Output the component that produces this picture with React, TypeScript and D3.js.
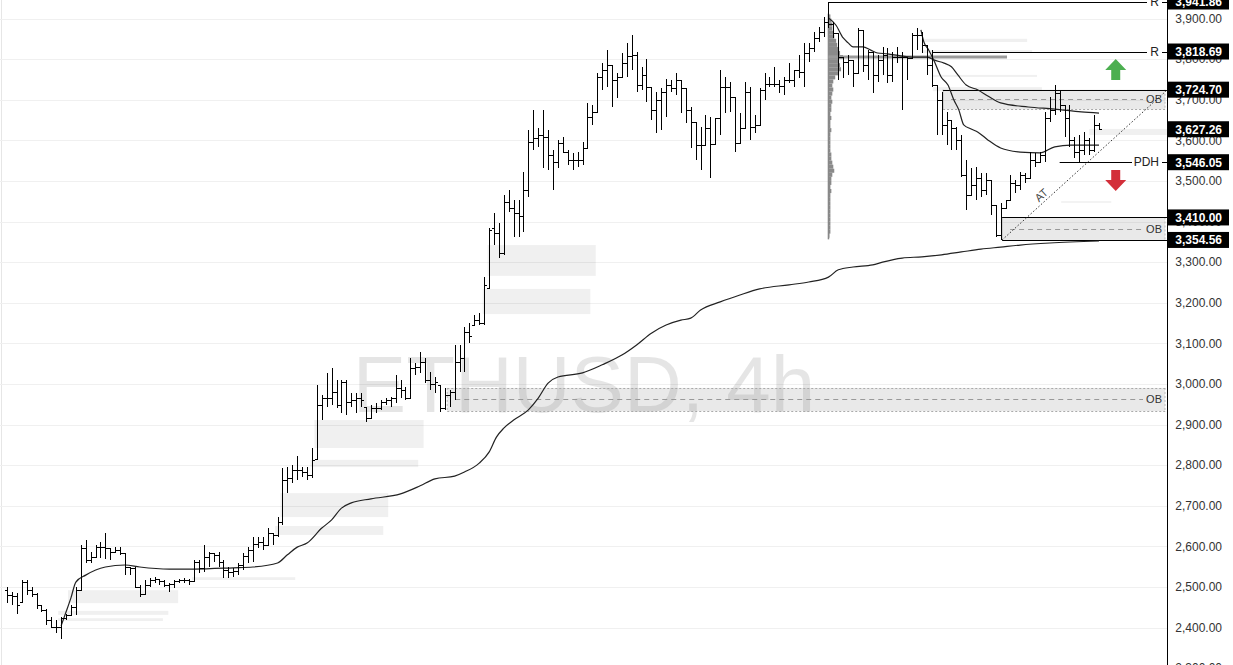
import React from 'react';
import * as d3 from 'd3';

const opens = [
2492,2480,2478,2463,2512,2492,2483,2455,2443,2419,
2401,2401,2423,2431,2451,2492,2596,2566,2574,2598,
2598,2596,2586,2591,2584,2549,2547,2500,2483,2505,
2517,2520,2515,2505,2507,2515,2517,2517,2515,2561,
2547,2574,2584,2579,2561,2542,2537,2539,2554,2576,
2591,2606,2611,2603,2633,2628,2660,2763,2768,2788,
2788,2783,2776,2815,2948,2965,2965,2980,2948,3005,
2955,2960,2965,2943,2916,2941,2941,2955,2960,2965,
2990,2985,2965,3039,3042,3054,3010,3000,2997,2941,
2973,2980,3054,3064,3128,3145,3157,3150,3236,3384,
3372,3322,3448,3433,3421,3414,3478,3596,3606,3613,
3608,3564,3547,3593,3571,3552,3552,3552,3581,3657,
3670,3756,3773,3786,3749,3756,3790,3808,3810,3736,
3761,3731,3675,3699,3719,3736,3729,3749,3729,3675,
3645,3588,3588,3630,3591,3655,3731,3731,3707,3593,
3630,3719,3633,3638,3724,3739,3739,3739,3734,3749,
3749,3773,3768,3815,3827,3852,3867,3891,3887,3864,
3805,3793,3798,3766,3872,3786,3818,3761,3798,3810,
3761,3805,3805,3805,3803,3859,3859,3835,3786,3736,
3699,3638,3650,3630,3601,3515,3465,3490,3507,3478,
3502,3441,3367,3433,3453,3495,3490,3515,3507,3552,
3547,3564,3655,3675,3717,3687,3655,3601,3571,3576,
3601,3576,3638];

const highs = [
2500,2488,2485,2517,2517,2500,2485,2455,2446,2426,
2419,2426,2433,2455,2500,2603,2616,2586,2603,2611,
2633,2596,2598,2598,2584,2549,2549,2505,2517,2522,
2524,2520,2517,2510,2517,2520,2522,2520,2566,2566,
2603,2586,2584,2586,2566,2549,2547,2559,2584,2598,
2623,2623,2623,2645,2633,2672,2793,2795,2800,2823,
2795,2795,2842,2997,2973,3027,3039,3010,3010,3010,
2978,2978,2978,2943,2948,2953,2960,2965,2968,3022,
3010,2992,3064,3052,3079,3064,3029,3017,2997,2990,
2985,3096,3096,3140,3150,3170,3175,3263,3384,3421,
3396,3465,3478,3453,3453,3522,3625,3675,3630,3675,
3625,3576,3601,3608,3576,3569,3571,3596,3692,3687,
3766,3790,3822,3786,3766,3815,3840,3859,3818,3781,
3800,3731,3719,3729,3751,3749,3766,3749,3729,3682,
3645,3633,3662,3657,3655,3773,3756,3744,3707,3667,
3744,3731,3662,3729,3766,3756,3781,3749,3756,3790,
3773,3810,3840,3840,3867,3879,3904,3941.86,3891,3864,
3805,3810,3798,3877,3872,3822,3818,3810,3830,3827,
3818,3830,3818,3805,3864,3877,3867,3835,3822,3736,
3719,3670,3650,3633,3613,3552,3532,3534,3520,3520,
3502,3441,3446,3453,3515,3502,3522,3520,3571,3569,
3571,3670,3707,3736,3724,3687,3687,3608,3613,3621,
3606,3662,3643];

const lows = [
2460,2455,2433,2463,2480,2475,2446,2438,2406,2399,
2387,2372,2419,2431,2431,2492,2559,2559,2571,2571,
2569,2566,2584,2579,2529,2529,2497,2475,2480,2500,
2510,2505,2500,2488,2497,2510,2510,2505,2515,2534,
2537,2549,2561,2549,2522,2522,2524,2529,2542,2559,
2561,2596,2591,2603,2603,2623,2653,2731,2756,2763,
2771,2763,2768,2813,2911,2943,2948,2941,2928,2923,
2943,2928,2943,2906,2916,2928,2936,2948,2943,2953,
2965,2960,2965,3022,3027,3002,2985,2978,2931,2936,
2943,2960,3029,3029,3101,3145,3145,3145,3236,3342,
3310,3318,3423,3362,3362,3374,3460,3576,3584,3532,
3527,3478,3532,3569,3539,3527,3534,3539,3581,3638,
3667,3724,3731,3682,3704,3756,3756,3773,3719,3724,
3694,3650,3618,3625,3657,3719,3712,3667,3643,3581,
3552,3527,3588,3507,3591,3613,3667,3670,3571,3593,
3630,3601,3618,3638,3699,3731,3731,3717,3712,3741,
3731,3754,3731,3793,3818,3842,3855,3877,3852,3749,
3754,3761,3731,3766,3768,3749,3717,3744,3761,3741,
3744,3790,3675,3749,3803,3822,3815,3761,3731,3613,
3613,3588,3576,3576,3510,3428,3465,3453,3460,3465,
3416,3362,3354.56,3433,3453,3470,3478,3495,3507,3534,
3547,3547,3645,3662,3670,3608,3584,3556,3547,3564,
3564,3571,3625];

const closes = [
2480,2478,2455,2512,2492,2483,2455,2443,2419,2401,
2401,2423,2431,2451,2492,2596,2566,2574,2598,2598,
2596,2586,2591,2584,2549,2547,2500,2483,2505,2517,
2520,2515,2505,2507,2515,2517,2517,2515,2561,2547,
2574,2584,2579,2561,2542,2537,2539,2554,2576,2591,
2606,2611,2603,2633,2628,2660,2763,2768,2788,2788,
2783,2776,2813,2948,2965,2965,2980,2948,3005,2955,
2960,2965,2960,2916,2941,2941,2955,2960,2965,2990,
2985,2965,3039,3042,3054,3010,3000,3005,2941,2973,
2980,3054,3064,3128,3118,3157,3150,3244,3379,3372,
3322,3448,3433,3421,3414,3478,3596,3606,3613,3608,
3564,3547,3593,3571,3552,3552,3552,3581,3657,3670,
3756,3773,3786,3749,3756,3790,3808,3810,3736,3761,
3731,3675,3699,3719,3736,3729,3749,3729,3675,3645,
3588,3588,3630,3591,3655,3731,3731,3707,3593,3630,
3719,3633,3638,3724,3739,3739,3739,3734,3749,3749,
3773,3768,3815,3827,3852,3867,3891,3887,3864,3805,
3793,3798,3766,3872,3786,3818,3761,3798,3810,3761,
3805,3805,3805,3803,3859,3859,3835,3786,3736,3699,
3638,3650,3630,3601,3515,3465,3490,3507,3478,3502,
3441,3367,3433,3453,3495,3490,3515,3507,3552,3547,
3564,3655,3675,3717,3687,3655,3601,3571,3576,3601,
3576,3638,3627.26];

// anchored VWAP lines: [bar index, price]
const vwapLow: [number, number][] = [
[11,2404],[12,2438],[13,2473],[14,2512],[16,2529],[20,2549],[24,2554],[27,2549],[33,2544],[38,2544],
[46,2547],[50,2549],[55,2559],[57,2579],[59,2598],[61,2608],[64,2645],[66,2665],[68,2694],[70,2707],
[74,2717],[80,2729],[84,2749],[87,2766],[91,2773],[93,2783],[96,2805],[98,2832],[99.5,2869],[101,2891],
[103,2911],[106,2936],[108,2965],[110,3002],[112,3017],[117,3027],[121,3047],[125,3071],[128,3096],[131,3125],
[134,3145],[137,3157],[139,3162],[141,3182],[145,3202],[149,3219],[153,3234],[159,3244],[163,3251],[167,3263],
[169,3281],[172,3288],[176,3293],[178,3300],[182,3310],[186,3313],[190,3318],[194,3325],[198,3332],[202,3337],
[206,3342],[212,3347],[222,3352]];

const vwapTop: [number, number][] = [
[167,3901],[168.5,3884],[170,3852],[171,3840],[172,3830],[174,3830],[175.6,3822],[177,3815],[179,3813],[181.7,3808],
[184.4,3805],[187.2,3805],[188.4,3798],[190.5,3790],[192,3781],[193.3,3761],[195,3736],[197.4,3724],[199.4,3709],[202,3692],
[207.6,3682],[213,3677],[218.4,3670],[222,3667]];

const vwapSecond: [number, number][] = [
[185.8,3872],[186.4,3842],[187.4,3822],[188.4,3798],[189.9,3756],[191.3,3736],[192.5,3699],[193.5,3675],[194.5,3638],[196,3628],
[197.4,3620],[199.4,3601],[202,3581],[206,3571],[210,3569],[213,3584],[216.3,3588],[222,3588]];

// volume profile anchored at the top
const profileLevels = [3900,3890,3880,3870,3860,3850,3840,3830,3820,3810,3800,3790,3780,3770,3760,3750,3740,3730,3720,3710,3700,3690,3680,3670,3660,3650,3640,3630,3620,3610,3600,3590,3580,3570,3560,3550,3540,3530,3520,3510,3500,3490,3480,3470,3460,3450,3440,3430,3420,3410,3400,3390,3380,3370,3360];
const profileVolumes = [2,3,4,4,5,6,8,9,11,12,15,11,12,13,11,7,5,4,5,4,3,4,3,3,2,3,2,2,3,2,2,2,2,2,3,3,4,5,6,4,3,3,2,3,2,2,2,2,2,2,2,2,2,2,1];
const profileStart = 167;
const pocPrice = 3805;
const pocEnd = 203.3;

// light liquidity zones: [startIdx, endIdx, top, bottom]
const zones: [number, number, number, number][] = [
[97.7,119.7,3342,3266],[96.7,118.6,3234,3172],[62.5,84.7,2911,2842],[61.7,83.6,2813,2795],
[55.6,77.5,2731,2672],[54.5,76.5,2650,2628],[37.6,58.6,2524,2517],[12.4,34.8,2492,2460],
[10.4,32.8,2441,2431],[10.4,31.7,2423,2416],[186.4,207.4,3850,3842],[186.2,208.4,3822,3815],
[188.2,209.4,3761,3756],[188.2,210.4,3731,3721],[220,240,3628,3613],[214.3,224.5,3450,3446]];

// order blocks: [startIdx, top, bottom, mid]
const obTop = [190.3, 3724.70, 3676, 3702];
const obLow = [202.3, 3410.00, 3354.56, 3382];
const obMid = [89.5, 2990, 2933, 2962];

const resistance1 = [167, 3941.86];
const resistance2 = [188.2, 3818.69];
const pdh = [214, 3546.05];
const trendAT: [number, number][] = [[202.3, 3354.56], [236.5, 3731]];

const priceTicks = [2300,2400,2500,2600,2700,2800,2900,3000,3100,3200,3300,3400,3500,3600,3700,3800,3900];
const markedPrices = [3941.86, 3818.69, 3724.70, 3627.26, 3546.05, 3410.00, 3354.56];
const upArrowPrice = 3800;
const downArrowPrice = 3475;
const arrowIdx = 225.4;

const FONT = "'Liberation Sans', Arial, sans-serif";

export default function App() {
  const W = 1233, H = 665;
  const axisX = 1167;
  const N = closes.length;
  const x = d3.scaleLinear().domain([0, N - 1]).range([7, 1099]);
  const y = d3.scaleLinear().domain([2400, 3900]).range([627.5, 18.5]);
  const fmt = d3.format(',.2f');
  const px = (v: number) => Math.round(v) + 0.5;

  let barPath = '';
  for (let i = 0; i < N; i++) {
    const cx = px(x(i));
    barPath += `M${cx},${y(highs[i]).toFixed(1)}V${y(lows[i]).toFixed(1)}`;
    barPath += `M${cx - 2.5},${px(y(opens[i]))}H${cx}`;
    barPath += `M${cx},${px(y(closes[i]))}H${cx + 2.5}`;
  }

  const line = d3.line<[number, number]>().x(d => x(d[0])).y(d => y(d[1])).curve(d3.curveMonotoneX);
  const profW = d3.scaleLinear().domain([0, 15]).range([0, 14.5]);
  const px0 = x(profileStart);

  const ob = (o: number[], dotTop: boolean, solidBottom: boolean, key: string) => {
    const x0 = x(o[0]);
    const yt = y(o[1]), yb = y(o[2]), ym = y(o[3]);
    return (
      <g key={key}>
        <rect x={x0} y={yt} width={axisX - x0 - 2} height={yb - yt} fill="rgba(110,110,110,0.15)" />
        <line x1={x0} x2={x0} y1={yt} y2={yb} stroke="#bbb" strokeDasharray={dotTop ? '2,2' : undefined} />
        <line x1={axisX - 2} x2={axisX - 2} y1={yt} y2={yb} stroke="#bbb" strokeDasharray="2,2" />
        <line x1={x0} x2={axisX} y1={px(yt)} y2={px(yt)} stroke={dotTop ? '#aaa' : '#000'} strokeDasharray={dotTop ? '2,2' : undefined} />
        <line x1={x0} x2={axisX} y1={px(yb)} y2={px(yb)} stroke={solidBottom ? '#000' : '#aaa'} strokeDasharray={solidBottom ? undefined : '2,2'} />
        <line x1={x0 + 8} x2={1143} y1={px(ym)} y2={px(ym)} stroke="#999" strokeDasharray="5,4" />
        <text x={1162} y={ym} dy="0.35em" textAnchor="end" fontSize={11} fill="#333" fontFamily={FONT}>OB</text>
      </g>
    );
  };

  const ax = x(arrowIdx);
  const ua = y(upArrowPrice);
  const da = y(downArrowPrice);

  const atStart = [x(trendAT[0][0]), y(trendAT[0][1])];
  const atEnd = [x(trendAT[1][0]), y(trendAT[1][1])];
  const ang = Math.atan2(atEnd[1] - atStart[1], atEnd[0] - atStart[0]) * 180 / Math.PI;
  const atLx = atStart[0] + (atEnd[0] - atStart[0]) * 0.26;
  const atLy = atStart[1] + (atEnd[1] - atStart[1]) * 0.26;

  return (
    <svg width={W} height={H} style={{ position: 'absolute', left: 0, top: 0, display: 'block', background: '#fff' }}>
      <defs>
        <clipPath id="plot"><rect x={0} y={0} width={axisX} height={H} /></clipPath>
      </defs>
      <rect x={0} y={0} width={W} height={H} fill="#fff" />
      <g clipPath="url(#plot)">
        <line x1={1.5} x2={1.5} y1={0} y2={H} stroke="#e6e6e6" />
        {priceTicks.map(t => (
          <line key={t} x1={0} x2={axisX} y1={px(y(t))} y2={px(y(t))} stroke="#f0f0f0" />
        ))}
        <text x={584} y={412} textAnchor="middle" fontSize={80} fontFamily={FONT} fill="rgba(0,0,0,0.1)">ETHUSD, 4h</text>
        {zones.map((z, i) => (
          <rect key={i} x={x(z[0])} y={y(z[2])} width={x(z[1]) - x(z[0])} height={y(z[3]) - y(z[2])} fill="rgba(0,0,0,0.06)" />
        ))}
        {ob(obMid, true, false, 'obm')}
        {ob(obTop, false, false, 'obt')}
        {ob(obLow, false, true, 'obl')}
        {/* volume profile */}
        {profileLevels.map((lv, i) => (
          <rect key={lv} x={px0} y={y(lv + 10)} width={profW(profileVolumes[i])} height={y(lv) - y(lv + 10)} fill="#8a8a8a" />
        ))}
        <line x1={px0} x2={px0} y1={y(3912)} y2={y(3356)} stroke="#888" strokeWidth={1.5} />
        <line x1={px0} x2={x(pocEnd)} y1={y(pocPrice)} y2={y(pocPrice)} stroke="#9a9a9a" strokeWidth={3} />
        {/* horizontal levels */}
        <line x1={x(resistance1[0])} x2={1147} y1={px(y(resistance1[1]))} y2={px(y(resistance1[1]))} stroke="#000" />
        <line x1={x(resistance2[0])} x2={1147} y1={px(y(resistance2[1]))} y2={px(y(resistance2[1]))} stroke="#000" />
        <line x1={x(pdh[0])} x2={1132} y1={px(y(pdh[1]))} y2={px(y(pdh[1]))} stroke="#000" />
        <line x1={1162} x2={axisX} y1={px(y(resistance1[1]))} y2={px(y(resistance1[1]))} stroke="#000" />
        <line x1={1162} x2={axisX} y1={px(y(resistance2[1]))} y2={px(y(resistance2[1]))} stroke="#000" />
        <line x1={1162} x2={axisX} y1={px(y(pdh[1]))} y2={px(y(pdh[1]))} stroke="#000" />
        <text x={1159} y={y(resistance1[1])} dy="0.35em" textAnchor="end" fontSize={12} fontFamily={FONT} fill="#222">R</text>
        <text x={1159} y={y(resistance2[1])} dy="0.35em" textAnchor="end" fontSize={12} fontFamily={FONT} fill="#222">R</text>
        <text x={1159} y={y(pdh[1])} dy="0.35em" textAnchor="end" fontSize={12} fontFamily={FONT} fill="#222">PDH</text>
        {/* trend line */}
        <line x1={atStart[0]} y1={atStart[1]} x2={atEnd[0]} y2={atEnd[1]} stroke="#333" strokeDasharray="1.5,2" />
        <text x={atLx} y={atLy} dy="-3" textAnchor="middle" fontSize={11} fontFamily={FONT} fill="#444"
          transform={`rotate(${ang} ${atLx} ${atLy})`}>AT</text>
        {/* VWAPs */}
        <path d={line(vwapLow) || ''} fill="none" stroke="#222" strokeWidth={1.2} />
        <path d={line(vwapTop) || ''} fill="none" stroke="#222" strokeWidth={1.2} />
        <path d={line(vwapSecond) || ''} fill="none" stroke="#222" strokeWidth={1.2} />
        {/* bars */}
        <path d={barPath} fill="none" stroke="#000" strokeWidth={1} shapeRendering="crispEdges" />
        {/* arrows */}
        <path d={`M${ax},${ua} L${ax + 10.5},${ua + 11} L${ax + 4.5},${ua + 11} L${ax + 4.5},${ua + 21} L${ax - 4.5},${ua + 21} L${ax - 4.5},${ua + 11} L${ax - 10.5},${ua + 11} Z`} fill="#4caf50" />
        <path d={`M${ax},${da} L${ax + 10.5},${da - 11} L${ax + 4.5},${da - 11} L${ax + 4.5},${da - 21} L${ax - 4.5},${da - 21} L${ax - 4.5},${da - 11} L${ax - 10.5},${da - 11} Z`} fill="#d32f3a" />
      </g>
      {/* price axis */}
      <line x1={axisX + 0.5} x2={axisX + 0.5} y1={0} y2={H} stroke="#000" />
      {priceTicks.map(t => (
        <text key={t} x={1222} y={y(t)} dy="0.35em" textAnchor="end" fontSize={12} fontFamily={FONT} fill="#333">{fmt(t)}</text>
      ))}
      {markedPrices.map(p => (
        <g key={p}>
          <rect x={axisX + 1} y={y(p) - 8} width={61} height={16} fill="#000" />
          <text x={1222} y={y(p)} dy="0.36em" textAnchor="end" fontSize={12} fontWeight="bold" fontFamily={FONT} fill="#fff">{fmt(p)}</text>
        </g>
      ))}
    </svg>
  );
}
